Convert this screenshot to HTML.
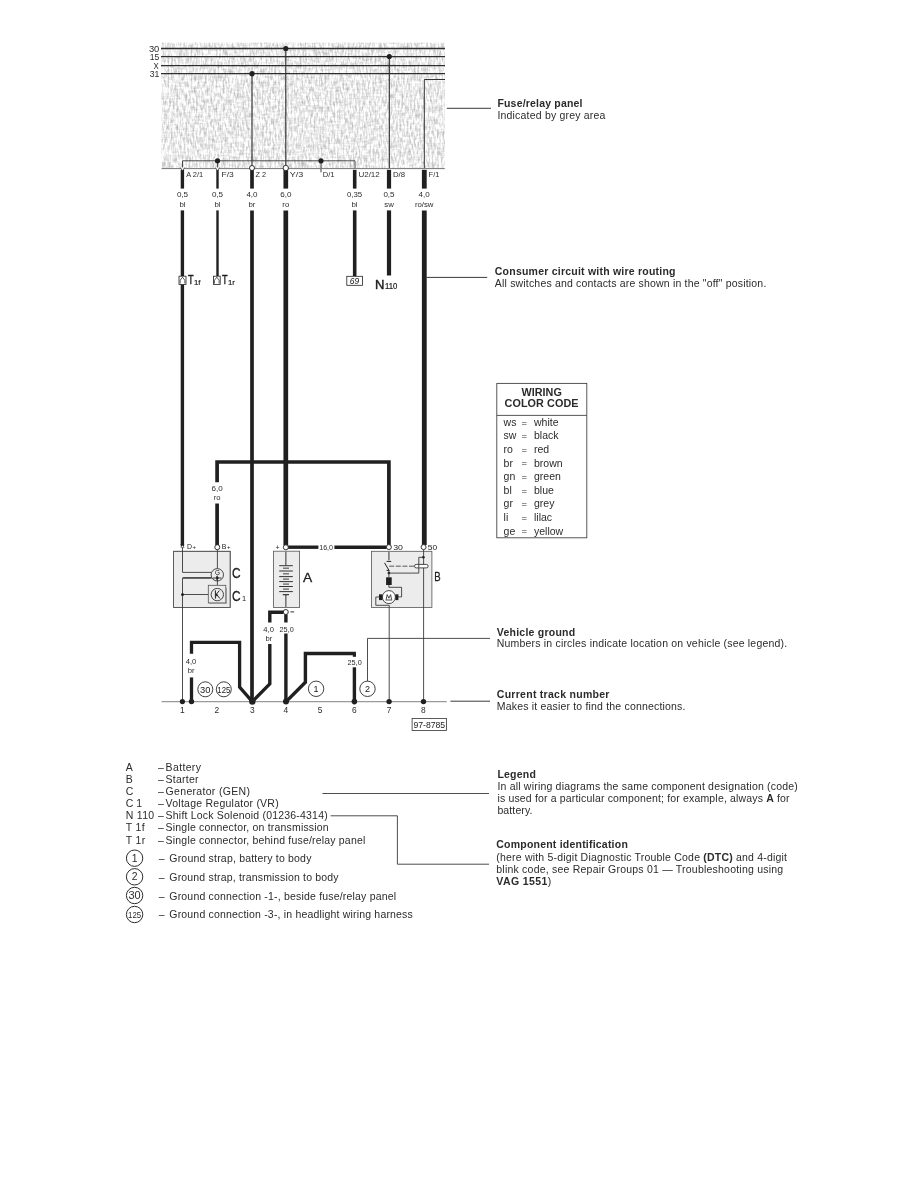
<!DOCTYPE html>
<html><head><meta charset="utf-8"><title>Wiring diagram</title>
<style>
html,body{margin:0;padding:0;background:#fff;}
body{width:918px;height:1188px;overflow:hidden;font-family:"Liberation Sans",sans-serif;}
svg{display:block;font-family:"Liberation Sans",sans-serif;filter:blur(0.35px);}
</style></head><body>
<svg width="918" height="1188" viewBox="0 0 918 1188">
<defs>
<filter id="tex" x="0" y="0" width="100%" height="100%" filterUnits="objectBoundingBox" color-interpolation-filters="sRGB">
<feTurbulence type="fractalNoise" baseFrequency="0.56 0.16" numOctaves="2" seed="3" result="n1"/>
<feColorMatrix in="n1" type="matrix" values="1 0 0 0 0  1 0 0 0 0  1 0 0 0 0  0 0 0 0 1" result="g1"/>
<feTurbulence type="fractalNoise" baseFrequency="0.14 0.56" numOctaves="1" seed="8" result="n2"/>
<feColorMatrix in="n2" type="matrix" values="1 0 0 0 0  1 0 0 0 0  1 0 0 0 0  0 0 0 0 1" result="g2"/>
<feComposite in="g1" in2="g2" operator="arithmetic" k1="0" k2="0.5" k3="0.22" k4="0.558" result="mix"/>
<feComposite in="mix" in2="SourceGraphic" operator="in"/>
</filter>
</defs>
<rect x="161.6" y="42.6" width="283.2" height="126.0" fill="#e6e6e6" filter="url(#tex)"/>
<line x1="161" y1="48.5" x2="445" y2="48.5" stroke="#2e2e2e" stroke-width="1.3" stroke-linecap="butt"/>
<line x1="161" y1="56.6" x2="445" y2="56.6" stroke="#2e2e2e" stroke-width="1.3" stroke-linecap="butt"/>
<line x1="161" y1="65.7" x2="445" y2="65.7" stroke="#2e2e2e" stroke-width="1.3" stroke-linecap="butt"/>
<line x1="161" y1="73.7" x2="445" y2="73.7" stroke="#2e2e2e" stroke-width="1.3" stroke-linecap="butt"/>
<text x="159.3" y="51.5" font-size="8.2" text-anchor="end" textLength="10.4" lengthAdjust="spacingAndGlyphs" fill="#2b2b2b">30</text>
<text x="159.3" y="59.6" font-size="8.2" text-anchor="end" textLength="9.6" lengthAdjust="spacingAndGlyphs" fill="#2b2b2b">15</text>
<text x="158.8" y="68.6" font-size="8.2" text-anchor="end" textLength="5.2" lengthAdjust="spacingAndGlyphs" fill="#2b2b2b">X</text>
<text x="159.3" y="76.8" font-size="8.2" text-anchor="end" textLength="9.6" lengthAdjust="spacingAndGlyphs" fill="#2b2b2b">31</text>
<line x1="252" y1="73.7" x2="252" y2="166" stroke="#2a2a2a" stroke-width="1.1" stroke-linecap="butt"/>
<line x1="285.8" y1="48.5" x2="285.8" y2="166" stroke="#2a2a2a" stroke-width="1.1" stroke-linecap="butt"/>
<line x1="389.3" y1="56.6" x2="389.3" y2="168" stroke="#2a2a2a" stroke-width="1.1" stroke-linecap="butt"/>
<polyline points="445,79.5 424.3,79.5 424.3,168" fill="none" stroke="#333" stroke-width="1.0" stroke-linejoin="miter"/>
<circle cx="252" cy="73.7" r="2.6" fill="#202020"/>
<circle cx="285.8" cy="48.5" r="2.6" fill="#202020"/>
<circle cx="389.3" cy="56.6" r="2.6" fill="#202020"/>
<polyline points="182.5,168 182.5,160.8 355,160.8 355,168" fill="none" stroke="#3a3a3a" stroke-width="0.9" stroke-linejoin="miter"/>
<line x1="217.5" y1="160.8" x2="217.5" y2="168" stroke="#3a3a3a" stroke-width="0.9" stroke-linecap="butt"/>
<line x1="321" y1="160.8" x2="321" y2="172.3" stroke="#3a3a3a" stroke-width="1.0" stroke-linecap="butt"/>
<circle cx="217.5" cy="160.8" r="2.6" fill="#202020"/>
<circle cx="321" cy="160.8" r="2.6" fill="#202020"/>
<line x1="161.6" y1="168.6" x2="444.8" y2="168.6" stroke="#777" stroke-width="1.0" stroke-linecap="butt"/>
<line x1="182.4" y1="169.8" x2="182.4" y2="188.6" stroke="#202020" stroke-width="3.4" stroke-linecap="butt"/>
<line x1="182.4" y1="210.4" x2="182.4" y2="276.0" stroke="#202020" stroke-width="3.4" stroke-linecap="butt"/>
<line x1="217.5" y1="169.8" x2="217.5" y2="188.6" stroke="#202020" stroke-width="2.4" stroke-linecap="butt"/>
<line x1="217.5" y1="210.4" x2="217.5" y2="276.0" stroke="#202020" stroke-width="2.4" stroke-linecap="butt"/>
<line x1="252.0" y1="169.8" x2="252.0" y2="188.6" stroke="#202020" stroke-width="3.7" stroke-linecap="butt"/>
<line x1="252.0" y1="210.4" x2="252.0" y2="701.6" stroke="#202020" stroke-width="3.7" stroke-linecap="butt"/>
<line x1="285.8" y1="169.8" x2="285.8" y2="188.6" stroke="#202020" stroke-width="4.7" stroke-linecap="butt"/>
<line x1="285.8" y1="210.4" x2="285.8" y2="545.5" stroke="#202020" stroke-width="4.7" stroke-linecap="butt"/>
<line x1="354.7" y1="169.8" x2="354.7" y2="188.6" stroke="#202020" stroke-width="3.6" stroke-linecap="butt"/>
<line x1="354.7" y1="210.4" x2="354.7" y2="276.0" stroke="#202020" stroke-width="3.6" stroke-linecap="butt"/>
<line x1="389.0" y1="169.8" x2="389.0" y2="188.6" stroke="#202020" stroke-width="4.2" stroke-linecap="butt"/>
<line x1="389.0" y1="210.4" x2="389.0" y2="275.5" stroke="#202020" stroke-width="4.2" stroke-linecap="butt"/>
<line x1="424.3" y1="169.8" x2="424.3" y2="188.6" stroke="#202020" stroke-width="4.8" stroke-linecap="butt"/>
<line x1="424.3" y1="210.4" x2="424.3" y2="545.0" stroke="#202020" stroke-width="4.8" stroke-linecap="butt"/>
<line x1="182.4" y1="284.6" x2="182.4" y2="545.0" stroke="#202020" stroke-width="3.4" stroke-linecap="butt"/>
<path d="M180.3,167.5 L182.5,170.8 L184.7,167.5" fill="#fff" stroke="#202020" stroke-width="0.7"/>
<path d="M215.3,167.5 L217.5,170.8 L219.7,167.5" fill="#fff" stroke="#202020" stroke-width="0.7"/>
<circle cx="252" cy="168" r="2.5" fill="#fff" stroke="#202020" stroke-width="0.9"/>
<circle cx="285.8" cy="168" r="2.7" fill="#fff" stroke="#202020" stroke-width="0.9"/>
<text x="186.2" y="177.0" font-size="8.0" textLength="17.0" lengthAdjust="spacingAndGlyphs" fill="#2b2b2b">A 2/1</text>
<text x="221.5" y="177.0" font-size="8.0" textLength="12.2" lengthAdjust="spacingAndGlyphs" fill="#2b2b2b">F/3</text>
<text x="255.5" y="177.0" font-size="8.0" textLength="10.5" lengthAdjust="spacingAndGlyphs" fill="#2b2b2b">Z 2</text>
<text x="289.8" y="177.0" font-size="8.0" textLength="13.5" lengthAdjust="spacingAndGlyphs" fill="#2b2b2b">Y/3</text>
<text x="322.7" y="177.0" font-size="8.0" textLength="11.8" lengthAdjust="spacingAndGlyphs" fill="#2b2b2b">D/1</text>
<text x="358.4" y="177.0" font-size="8.0" textLength="21.4" lengthAdjust="spacingAndGlyphs" fill="#2b2b2b">U2/12</text>
<text x="392.9" y="177.0" font-size="8.0" textLength="12.2" lengthAdjust="spacingAndGlyphs" fill="#2b2b2b">D/8</text>
<text x="428.6" y="177.0" font-size="8.0" textLength="10.8" lengthAdjust="spacingAndGlyphs" fill="#2b2b2b">F/1</text>
<text x="182.5" y="197.3" font-size="7.8" text-anchor="middle" textLength="11.2" lengthAdjust="spacingAndGlyphs" fill="#2b2b2b">0,5</text>
<text x="182.5" y="206.6" font-size="7.8" text-anchor="middle" fill="#2b2b2b">bl</text>
<text x="217.5" y="197.3" font-size="7.8" text-anchor="middle" textLength="11.2" lengthAdjust="spacingAndGlyphs" fill="#2b2b2b">0,5</text>
<text x="217.5" y="206.6" font-size="7.8" text-anchor="middle" fill="#2b2b2b">bl</text>
<text x="252" y="197.3" font-size="7.8" text-anchor="middle" textLength="11.2" lengthAdjust="spacingAndGlyphs" fill="#2b2b2b">4,0</text>
<text x="252" y="206.6" font-size="7.8" text-anchor="middle" fill="#2b2b2b">br</text>
<text x="285.8" y="197.3" font-size="7.8" text-anchor="middle" textLength="11.2" lengthAdjust="spacingAndGlyphs" fill="#2b2b2b">6,0</text>
<text x="285.8" y="206.6" font-size="7.8" text-anchor="middle" fill="#2b2b2b">ro</text>
<text x="354.5" y="197.3" font-size="7.8" text-anchor="middle" textLength="15.2" lengthAdjust="spacingAndGlyphs" fill="#2b2b2b">0,35</text>
<text x="354.5" y="206.6" font-size="7.8" text-anchor="middle" fill="#2b2b2b">bl</text>
<text x="389" y="197.3" font-size="7.8" text-anchor="middle" textLength="11.2" lengthAdjust="spacingAndGlyphs" fill="#2b2b2b">0,5</text>
<text x="389" y="206.6" font-size="7.8" text-anchor="middle" fill="#2b2b2b">sw</text>
<text x="424.2" y="197.3" font-size="7.8" text-anchor="middle" textLength="11.2" lengthAdjust="spacingAndGlyphs" fill="#2b2b2b">4,0</text>
<text x="424.2" y="206.6" font-size="7.8" text-anchor="middle" fill="#2b2b2b">ro/sw</text>
<rect x="179.0" y="276.2" width="7.0" height="8.3" fill="#fff" stroke="#202020" stroke-width="0.8"/>
<path d="M180.2,283.5 L180.2,280.2 L182.5,277.2 L184.8,280.2 L184.8,283.5" fill="none" stroke="#202020" stroke-width="0.7"/>
<rect x="213.4" y="276.2" width="6.799999999999983" height="8.3" fill="#fff" stroke="#202020" stroke-width="0.8"/>
<path d="M214.5,283.5 L214.5,280.2 L216.8,277.2 L219.10000000000002,280.2 L219.10000000000002,283.5" fill="none" stroke="#202020" stroke-width="0.7"/>
<text x="187.9" y="284.4" font-size="13.6" textLength="5.6" lengthAdjust="spacingAndGlyphs" fill="#202020" stroke="#1c1c1c" stroke-width="0.45">T</text>
<text x="193.9" y="284.5" font-size="7.8" fill="#202020" stroke="#202020" stroke-width="0.2">1f</text>
<text x="221.9" y="284.4" font-size="13.6" textLength="5.6" lengthAdjust="spacingAndGlyphs" fill="#202020" stroke="#1c1c1c" stroke-width="0.45">T</text>
<text x="227.9" y="284.5" font-size="7.8" fill="#202020" stroke="#202020" stroke-width="0.2">1r</text>
<rect x="346.8" y="276.3" width="15.8" height="9.0" fill="#fff" stroke="#202020" stroke-width="0.8"/>
<text x="354.5" y="283.9" font-size="8.6" text-anchor="middle" textLength="9.4" lengthAdjust="spacingAndGlyphs" fill="#202020" font-style="italic">69</text>
<text x="375.0" y="288.6" font-size="13.5" textLength="9.4" lengthAdjust="spacingAndGlyphs" fill="#202020" stroke="#1c1c1c" stroke-width="0.45">N</text>
<text x="385.0" y="288.8" font-size="8.4" textLength="12.4" lengthAdjust="spacingAndGlyphs" fill="#202020" stroke="#202020" stroke-width="0.2">110</text>
<polyline points="217.1,482.3 217.1,462.0 388.9,462.0 388.9,545.0" fill="none" stroke="#202020" stroke-width="3.7" stroke-linejoin="miter"/>
<line x1="217.1" y1="503.5" x2="217.1" y2="545.0" stroke="#202020" stroke-width="3.7" stroke-linecap="butt"/>
<text x="217.2" y="490.6" font-size="7.8" text-anchor="middle" textLength="11.2" lengthAdjust="spacingAndGlyphs" fill="#2b2b2b">6,0</text>
<text x="217.1" y="500.0" font-size="7.6" text-anchor="middle" fill="#2b2b2b">ro</text>
<line x1="288.0" y1="547.2" x2="318.4" y2="547.2" stroke="#202020" stroke-width="3.4" stroke-linecap="butt"/>
<line x1="334.4" y1="547.2" x2="386.6" y2="547.2" stroke="#202020" stroke-width="3.4" stroke-linecap="butt"/>
<text x="319.2" y="550.0" font-size="7.8" textLength="13.8" lengthAdjust="spacingAndGlyphs" fill="#2b2b2b">16,0</text>
<rect x="173.6" y="551.3" width="56.6" height="56.1" fill="#ececec" stroke="#555" stroke-width="0.8"/>
<rect x="173.6" y="551.3" width="56.6" height="56.1" fill="none" stroke="#555" stroke-width="0.8"/>
<polyline points="182.5,546.5 182.5,572.4 211.4,572.4" fill="none" stroke="#3a3a3a" stroke-width="0.9" stroke-linejoin="miter"/>
<polyline points="211.6,577.9 182.5,577.9 182.5,701.6" fill="none" stroke="#3a3a3a" stroke-width="0.9" stroke-linejoin="miter"/>
<line x1="183" y1="577.9" x2="211.6" y2="577.9" stroke="#444" stroke-width="1.5" stroke-linecap="butt"/>
<line x1="182.5" y1="594.5" x2="208.3" y2="594.5" stroke="#3a3a3a" stroke-width="0.9" stroke-linecap="butt"/>
<circle cx="182.5" cy="594.5" r="1.5" fill="#202020"/>
<line x1="217.4" y1="549.5" x2="217.4" y2="568.8" stroke="#3a3a3a" stroke-width="0.9" stroke-linecap="butt"/>
<line x1="217.4" y1="581" x2="217.4" y2="585.3" stroke="#3a3a3a" stroke-width="0.9" stroke-linecap="butt"/>
<circle cx="217.3" cy="574.8" r="6.2" fill="#ececec" stroke="#333" stroke-width="0.9"/>
<text x="217.4" y="574.6" font-size="6.4" text-anchor="middle" fill="#111">G</text>
<path d="M213.0,578.0 H221.4 M217.4,575.6 V581.0" stroke="#202020" stroke-width="0.9" fill="none"/>
<path d="M216.2,576.0 L219.2,578.0 L216.2,580.0 Z" fill="#202020"/>
<rect x="208.3" y="585.3" width="17.5" height="17.6" fill="#ececec" stroke="#555" stroke-width="0.8"/>
<line x1="226.4" y1="588" x2="226.4" y2="603.4" stroke="#999" stroke-width="1.2" stroke-linecap="butt"/>
<line x1="209" y1="603.5" x2="226.4" y2="603.5" stroke="#999" stroke-width="1.0" stroke-linecap="butt"/>
<circle cx="217.3" cy="594.6" r="6.2" fill="#ececec" stroke="#333" stroke-width="0.9"/>
<path d="M215.4,590.4 V598.6 M215.6,595 L219.4,590.6 M216.2,594.2 L220.0,598.6" stroke="#202020" stroke-width="1.0" fill="none"/>
<path d="M215.8,593.6 L218.4,595.0 L216.4,596.6 Z" fill="#202020"/>
<text x="187.0" y="549.0" font-size="6.6" textLength="5.0" lengthAdjust="spacingAndGlyphs" fill="#202020">D</text>
<text x="192.6" y="549.0" font-size="6.0" fill="#202020">+</text>
<text x="221.8" y="549.0" font-size="6.6" textLength="4.6" lengthAdjust="spacingAndGlyphs" fill="#202020">B</text>
<text x="227.0" y="549.0" font-size="6.0" fill="#202020">+</text>
<line x1="182.4" y1="544" x2="182.4" y2="546.4" stroke="#202020" stroke-width="3.4" stroke-linecap="butt"/>
<path d="M180.9,547.6 L182.5,544.9 L184.1,547.6 Z" fill="#fff" stroke="#202020" stroke-width="0.5"/>
<circle cx="217.3" cy="547.2" r="2.5" fill="#fff" stroke="#202020" stroke-width="0.9"/>
<text x="232.0" y="578.4" font-size="14.0" textLength="8.6" lengthAdjust="spacingAndGlyphs" fill="#202020" stroke="#1c1c1c" stroke-width="0.3">C</text>
<text x="232.0" y="600.7" font-size="14.0" textLength="8.6" lengthAdjust="spacingAndGlyphs" fill="#202020" stroke="#1c1c1c" stroke-width="0.3">C</text>
<text x="241.9" y="600.6" font-size="7.4" fill="#202020">1</text>
<rect x="273.4" y="551.2" width="26.2" height="56.3" fill="#ececec" stroke="#555" stroke-width="0.8"/>
<line x1="285.8" y1="551.5" x2="285.8" y2="565.5" stroke="#777" stroke-width="1.6" stroke-linecap="butt"/>
<line x1="285.8" y1="595" x2="285.8" y2="607.4" stroke="#777" stroke-width="1.6" stroke-linecap="butt"/>
<line x1="279.2" y1="565.7" x2="292.8" y2="565.7" stroke="#333" stroke-width="1.0" stroke-linecap="butt"/>
<line x1="279.2" y1="571.0" x2="292.8" y2="571.0" stroke="#333" stroke-width="1.0" stroke-linecap="butt"/>
<line x1="279.2" y1="576.6" x2="292.8" y2="576.6" stroke="#333" stroke-width="1.0" stroke-linecap="butt"/>
<line x1="279.2" y1="581.6" x2="292.8" y2="581.6" stroke="#333" stroke-width="1.0" stroke-linecap="butt"/>
<line x1="279.2" y1="586.5" x2="292.8" y2="586.5" stroke="#333" stroke-width="1.0" stroke-linecap="butt"/>
<line x1="279.2" y1="591.6" x2="292.8" y2="591.6" stroke="#333" stroke-width="1.0" stroke-linecap="butt"/>
<line x1="283.0" y1="568.2" x2="289.0" y2="568.2" stroke="#666" stroke-width="1.3" stroke-linecap="butt"/>
<line x1="283.0" y1="573.8" x2="289.0" y2="573.8" stroke="#666" stroke-width="1.3" stroke-linecap="butt"/>
<line x1="283.0" y1="579.1" x2="289.0" y2="579.1" stroke="#666" stroke-width="1.3" stroke-linecap="butt"/>
<line x1="283.0" y1="584.1" x2="289.0" y2="584.1" stroke="#666" stroke-width="1.3" stroke-linecap="butt"/>
<line x1="283.0" y1="589.1" x2="289.0" y2="589.1" stroke="#666" stroke-width="1.3" stroke-linecap="butt"/>
<line x1="282.8" y1="594.7" x2="289.0" y2="594.7" stroke="#222" stroke-width="1.1" stroke-linecap="butt"/>
<circle cx="285.8" cy="547.3" r="2.5" fill="#fff" stroke="#202020" stroke-width="0.9"/>
<circle cx="285.8" cy="612.0" r="2.5" fill="#fff" stroke="#202020" stroke-width="0.9"/>
<text x="275.4" y="549.6" font-size="7.0" fill="#202020">+</text>
<line x1="290.4" y1="611.9" x2="294.2" y2="611.9" stroke="#202020" stroke-width="0.9" stroke-linecap="butt"/>
<text x="303.0" y="581.7" font-size="13.2" textLength="9.2" lengthAdjust="spacingAndGlyphs" fill="#202020" stroke="#1c1c1c" stroke-width="0.3">A</text>
<polyline points="283.4,612.2 269.8,612.2 269.8,622.5" fill="none" stroke="#202020" stroke-width="3.4" stroke-linejoin="miter"/>
<polyline points="269.8,644.0 269.8,683.9 252.3,701.6" fill="none" stroke="#202020" stroke-width="3.4" stroke-linejoin="miter"/>
<line x1="285.9" y1="614.4" x2="285.9" y2="622.5" stroke="#202020" stroke-width="3.4" stroke-linecap="butt"/>
<line x1="285.9" y1="633.5" x2="285.9" y2="701.6" stroke="#202020" stroke-width="3.4" stroke-linecap="butt"/>
<text x="268.6" y="631.6" font-size="7.8" text-anchor="middle" textLength="10.6" lengthAdjust="spacingAndGlyphs" fill="#2b2b2b">4,0</text>
<text x="269.0" y="640.8" font-size="7.6" text-anchor="middle" fill="#2b2b2b">br</text>
<text x="286.6" y="631.6" font-size="7.8" text-anchor="middle" textLength="14.2" lengthAdjust="spacingAndGlyphs" fill="#2b2b2b">25,0</text>
<rect x="371.4" y="551.3" width="60.5" height="56.1" fill="#ececec" stroke="#555" stroke-width="0.8"/>
<circle cx="388.9" cy="547.1" r="2.5" fill="#fff" stroke="#202020" stroke-width="0.9"/>
<circle cx="423.6" cy="547.1" r="2.5" fill="#fff" stroke="#202020" stroke-width="0.9"/>
<text x="393.2" y="549.8" font-size="7.8" textLength="9.8" lengthAdjust="spacingAndGlyphs" fill="#202020">30</text>
<text x="427.8" y="549.8" font-size="7.8" textLength="9.4" lengthAdjust="spacingAndGlyphs" fill="#202020">50</text>
<line x1="423.6" y1="549.6" x2="423.6" y2="701.6" stroke="#3a3a3a" stroke-width="0.9" stroke-linecap="butt"/>
<line x1="388.9" y1="551.6" x2="388.9" y2="560.2" stroke="#777" stroke-width="1.6" stroke-linecap="butt"/>
<line x1="386.6" y1="561.4" x2="391.2" y2="561.4" stroke="#202020" stroke-width="1.0" stroke-linecap="butt"/>
<line x1="384.5" y1="562.8" x2="388.9" y2="570.2" stroke="#202020" stroke-width="1.0" stroke-linecap="butt"/>
<line x1="386.6" y1="570.4" x2="389.4" y2="570.4" stroke="#202020" stroke-width="1.0" stroke-linecap="butt"/>
<line x1="389.2" y1="566.3" x2="414.5" y2="566.3" stroke="#888" stroke-width="1.4" stroke-dasharray="5 1.6"/>
<rect x="414.5" y="564.4" width="13.6" height="3.5" rx="1.7" fill="#fff" stroke="#202020" stroke-width="0.8"/>
<circle cx="388.9" cy="573.1" r="1.4" fill="#202020"/>
<line x1="388.9" y1="570.4" x2="388.9" y2="577.3" stroke="#3a3a3a" stroke-width="0.9" stroke-linecap="butt"/>
<polyline points="388.9,573.1 418.8,573.1 418.8,557.3 423.6,557.3" fill="none" stroke="#3a3a3a" stroke-width="0.9" stroke-linejoin="miter"/>
<circle cx="423.4" cy="557.3" r="1.3" fill="#202020"/>
<rect x="386.1" y="577.3" width="5.6" height="7.7" fill="#202020"/>
<polyline points="388.9,585 388.9,587.3 401.6,587.3 401.6,596.9 398,596.9" fill="none" stroke="#3a3a3a" stroke-width="0.9" stroke-linejoin="miter"/>
<circle cx="388.9" cy="597.1" r="6.5" fill="#fff" stroke="#333" stroke-width="0.9"/>
<rect x="379.0" y="594.3" width="3.4" height="5.8" fill="#202020"/>
<rect x="395.4" y="594.3" width="3.0" height="5.8" fill="#202020"/>
<path d="M386.2,599.6 L387.2,594.6 L388.9,598.2 L390.6,594.6 L391.6,599.6 M385.6,600.0 H392.2" fill="none" stroke="#202020" stroke-width="0.8"/>
<polyline points="379,597 375.8,597 375.8,605.3 389.2,605.3 389.2,701.6" fill="none" stroke="#3a3a3a" stroke-width="0.9" stroke-linejoin="miter"/>
<text x="434.2" y="581.4" font-size="12.6" textLength="6.4" lengthAdjust="spacingAndGlyphs" fill="#202020" stroke="#1c1c1c" stroke-width="0.3">B</text>
<line x1="161.6" y1="701.7" x2="446.8" y2="701.7" stroke="#9a9a9a" stroke-width="1.2" stroke-linecap="butt"/>
<line x1="450.4" y1="701.2" x2="490" y2="701.2" stroke="#3a3a3a" stroke-width="1.0" stroke-linecap="butt"/>
<line x1="191.5" y1="701.6" x2="191.5" y2="677.4" stroke="#202020" stroke-width="3.3" stroke-linecap="butt"/>
<polyline points="191.5,653.7 191.5,642.3 239.6,642.3 239.6,687.2 252.3,701.6" fill="none" stroke="#202020" stroke-width="3.3" stroke-linejoin="miter"/>
<text x="191.0" y="664.2" font-size="7.8" text-anchor="middle" textLength="10.6" lengthAdjust="spacingAndGlyphs" fill="#2b2b2b">4,0</text>
<text x="191.2" y="673.4" font-size="7.6" text-anchor="middle" fill="#2b2b2b">br</text>
<polyline points="286.1,701.6 305.4,682.3 305.4,653.5 355.9,653.5" fill="none" stroke="#202020" stroke-width="3.4" stroke-linejoin="miter"/>
<line x1="354.4" y1="653.5" x2="354.4" y2="656.8" stroke="#202020" stroke-width="3.2" stroke-linecap="butt"/>
<line x1="354.4" y1="667.3" x2="354.4" y2="701.6" stroke="#202020" stroke-width="3.4" stroke-linecap="butt"/>
<text x="354.6" y="664.6" font-size="7.8" text-anchor="middle" textLength="14.2" lengthAdjust="spacingAndGlyphs" fill="#2b2b2b">25,0</text>
<circle cx="182.4" cy="701.6" r="2.6" fill="#202020"/>
<circle cx="191.5" cy="701.6" r="2.7" fill="#202020"/>
<circle cx="252.3" cy="701.6" r="3.2" fill="#202020"/>
<circle cx="286.0" cy="701.6" r="3.0" fill="#202020"/>
<circle cx="354.4" cy="701.6" r="2.8" fill="#202020"/>
<circle cx="389.1" cy="701.6" r="2.7" fill="#202020"/>
<circle cx="423.5" cy="701.6" r="2.7" fill="#202020"/>
<circle cx="205.3" cy="689.3" r="7.5" fill="#fff" stroke="#2a2a2a" stroke-width="0.9"/>
<text x="205.3" y="692.54" font-size="9.0" text-anchor="middle" textLength="10.4" lengthAdjust="spacingAndGlyphs" fill="#202020">30</text>
<circle cx="223.8" cy="689.3" r="7.5" fill="#fff" stroke="#2a2a2a" stroke-width="0.9"/>
<text x="223.8" y="692.54" font-size="9.0" text-anchor="middle" textLength="13.0" lengthAdjust="spacingAndGlyphs" fill="#202020">125</text>
<circle cx="316.1" cy="688.8" r="7.7" fill="#fff" stroke="#2a2a2a" stroke-width="0.9"/>
<text x="316.1" y="692.04" font-size="9.0" text-anchor="middle" fill="#202020">1</text>
<circle cx="367.5" cy="688.8" r="7.7" fill="#fff" stroke="#2a2a2a" stroke-width="0.9"/>
<text x="367.5" y="692.04" font-size="9.0" text-anchor="middle" fill="#202020">2</text>
<polyline points="367.5,681.2 367.5,638.4 490,638.4" fill="none" stroke="#3a3a3a" stroke-width="0.9" stroke-linejoin="miter"/>
<text x="182.4" y="712.8" font-size="8.4" text-anchor="middle" fill="#2b2b2b">1</text>
<text x="216.9" y="712.8" font-size="8.4" text-anchor="middle" fill="#2b2b2b">2</text>
<text x="252.3" y="712.8" font-size="8.4" text-anchor="middle" fill="#2b2b2b">3</text>
<text x="285.8" y="712.8" font-size="8.4" text-anchor="middle" fill="#2b2b2b">4</text>
<text x="320.0" y="712.8" font-size="8.4" text-anchor="middle" fill="#2b2b2b">5</text>
<text x="354.3" y="712.8" font-size="8.4" text-anchor="middle" fill="#2b2b2b">6</text>
<text x="389.0" y="712.8" font-size="8.4" text-anchor="middle" fill="#2b2b2b">7</text>
<text x="423.3" y="712.8" font-size="8.4" text-anchor="middle" fill="#2b2b2b">8</text>
<rect x="412.1" y="718.5" width="34.4" height="11.9" fill="#fff" stroke="#333" stroke-width="0.8"/>
<text x="429.3" y="727.8" font-size="9.0" text-anchor="middle" textLength="31.7" lengthAdjust="spacingAndGlyphs" fill="#202020">97-8785</text>
<line x1="446.8" y1="108.3" x2="491" y2="108.3" stroke="#3a3a3a" stroke-width="1.0" stroke-linecap="butt"/>
<text x="497.4" y="106.7" font-size="10.5" font-weight="bold" textLength="85.1" lengthAdjust="spacing" fill="#2b2b2b">Fuse/relay panel</text>
<text x="497.4" y="118.7" font-size="10.5" textLength="108.0" lengthAdjust="spacing" fill="#2b2b2b">Indicated by grey area</text>
<line x1="426.5" y1="277.4" x2="487.2" y2="277.4" stroke="#3a3a3a" stroke-width="1.0" stroke-linecap="butt"/>
<text x="494.8" y="274.8" font-size="10.5" font-weight="bold" textLength="180.7" lengthAdjust="spacing" fill="#2b2b2b">Consumer circuit with wire routing</text>
<text x="494.8" y="286.9" font-size="10.5" textLength="271.5" lengthAdjust="spacing" fill="#2b2b2b">All switches and contacts are shown in the &quot;off&quot; position.</text>
<text x="496.8" y="635.7" font-size="10.5" font-weight="bold" textLength="78.4" lengthAdjust="spacing" fill="#2b2b2b">Vehicle ground</text>
<text x="496.8" y="647.3" font-size="10.5" textLength="290.3" lengthAdjust="spacing" fill="#2b2b2b">Numbers in circles indicate location on vehicle (see legend).</text>
<text x="496.8" y="698.2" font-size="10.5" font-weight="bold" textLength="112.6" lengthAdjust="spacing" fill="#2b2b2b">Current track number</text>
<text x="496.8" y="710.0" font-size="10.5" textLength="188.6" lengthAdjust="spacing" fill="#2b2b2b">Makes it easier to find the connections.</text>
<rect x="496.8" y="383.4" width="90.0" height="154.4" fill="#fff" stroke="#444" stroke-width="0.9"/>
<line x1="496.8" y1="415.4" x2="586.8" y2="415.4" stroke="#444" stroke-width="0.9" stroke-linecap="butt"/>
<text x="541.7" y="395.6" font-size="10.8" font-weight="bold" text-anchor="middle" textLength="40.3" lengthAdjust="spacing" fill="#2b2b2b">WIRING</text>
<text x="541.5" y="407.4" font-size="10.8" font-weight="bold" text-anchor="middle" textLength="74.0" lengthAdjust="spacing" fill="#2b2b2b">COLOR CODE</text>
<text x="503.6" y="425.9" font-size="10.5" fill="#2b2b2b">ws</text>
<text x="521.6" y="425.59999999999997" font-size="9.5" fill="#2b2b2b">=</text>
<text x="534.0" y="425.9" font-size="10.5" fill="#2b2b2b">white</text>
<text x="503.6" y="439.48999999999995" font-size="10.5" fill="#2b2b2b">sw</text>
<text x="521.6" y="439.18999999999994" font-size="9.5" fill="#2b2b2b">=</text>
<text x="534.0" y="439.48999999999995" font-size="10.5" fill="#2b2b2b">black</text>
<text x="503.6" y="453.08" font-size="10.5" fill="#2b2b2b">ro</text>
<text x="521.6" y="452.78" font-size="9.5" fill="#2b2b2b">=</text>
<text x="534.0" y="453.08" font-size="10.5" fill="#2b2b2b">red</text>
<text x="503.6" y="466.66999999999996" font-size="10.5" fill="#2b2b2b">br</text>
<text x="521.6" y="466.36999999999995" font-size="9.5" fill="#2b2b2b">=</text>
<text x="534.0" y="466.66999999999996" font-size="10.5" fill="#2b2b2b">brown</text>
<text x="503.6" y="480.26" font-size="10.5" fill="#2b2b2b">gn</text>
<text x="521.6" y="479.96" font-size="9.5" fill="#2b2b2b">=</text>
<text x="534.0" y="480.26" font-size="10.5" fill="#2b2b2b">green</text>
<text x="503.6" y="493.84999999999997" font-size="10.5" fill="#2b2b2b">bl</text>
<text x="521.6" y="493.54999999999995" font-size="9.5" fill="#2b2b2b">=</text>
<text x="534.0" y="493.84999999999997" font-size="10.5" fill="#2b2b2b">blue</text>
<text x="503.6" y="507.43999999999994" font-size="10.5" fill="#2b2b2b">gr</text>
<text x="521.6" y="507.13999999999993" font-size="9.5" fill="#2b2b2b">=</text>
<text x="534.0" y="507.43999999999994" font-size="10.5" fill="#2b2b2b">grey</text>
<text x="503.6" y="521.03" font-size="10.5" fill="#2b2b2b">li</text>
<text x="521.6" y="520.73" font-size="9.5" fill="#2b2b2b">=</text>
<text x="534.0" y="521.03" font-size="10.5" fill="#2b2b2b">lilac</text>
<text x="503.6" y="534.62" font-size="10.5" fill="#2b2b2b">ge</text>
<text x="521.6" y="534.32" font-size="9.5" fill="#2b2b2b">=</text>
<text x="534.0" y="534.62" font-size="10.5" fill="#2b2b2b">yellow</text>
<text x="125.7" y="770.7" font-size="10.5" fill="#2b2b2b">A</text>
<text x="158.0" y="770.7" font-size="10.5" fill="#2b2b2b">&#8211;</text>
<text x="165.6" y="770.7" font-size="10.5" textLength="35.3" lengthAdjust="spacing" fill="#2b2b2b">Battery</text>
<text x="125.7" y="782.85" font-size="10.5" fill="#2b2b2b">B</text>
<text x="158.0" y="782.85" font-size="10.5" fill="#2b2b2b">&#8211;</text>
<text x="165.6" y="782.85" font-size="10.5" textLength="33.0" lengthAdjust="spacing" fill="#2b2b2b">Starter</text>
<text x="125.7" y="795.0" font-size="10.5" fill="#2b2b2b">C</text>
<text x="158.0" y="795.0" font-size="10.5" fill="#2b2b2b">&#8211;</text>
<text x="165.6" y="795.0" font-size="10.5" textLength="84.3" lengthAdjust="spacing" fill="#2b2b2b">Generator (GEN)</text>
<text x="125.7" y="807.1500000000001" font-size="10.5" textLength="16.3" lengthAdjust="spacing" fill="#2b2b2b">C 1</text>
<text x="158.0" y="807.1500000000001" font-size="10.5" fill="#2b2b2b">&#8211;</text>
<text x="165.6" y="807.1500000000001" font-size="10.5" textLength="113.1" lengthAdjust="spacing" fill="#2b2b2b">Voltage Regulator (VR)</text>
<text x="125.7" y="819.3000000000001" font-size="10.5" textLength="28.4" lengthAdjust="spacing" fill="#2b2b2b">N 110</text>
<text x="158.0" y="819.3000000000001" font-size="10.5" fill="#2b2b2b">&#8211;</text>
<text x="165.6" y="819.3000000000001" font-size="10.5" textLength="162.1" lengthAdjust="spacing" fill="#2b2b2b">Shift Lock Solenoid (01236-4314)</text>
<text x="125.7" y="831.45" font-size="10.5" textLength="19.0" lengthAdjust="spacing" fill="#2b2b2b">T 1f</text>
<text x="158.0" y="831.45" font-size="10.5" fill="#2b2b2b">&#8211;</text>
<text x="165.6" y="831.45" font-size="10.5" textLength="163.1" lengthAdjust="spacing" fill="#2b2b2b">Single connector, on transmission</text>
<text x="125.7" y="843.6" font-size="10.5" textLength="19.6" lengthAdjust="spacing" fill="#2b2b2b">T 1r</text>
<text x="158.0" y="843.6" font-size="10.5" fill="#2b2b2b">&#8211;</text>
<text x="165.6" y="843.6" font-size="10.5" textLength="199.7" lengthAdjust="spacing" fill="#2b2b2b">Single connector, behind fuse/relay panel</text>
<line x1="322.4" y1="793.5" x2="489" y2="793.5" stroke="#3a3a3a" stroke-width="0.9" stroke-linecap="butt"/>
<polyline points="330.6,815.8 397.4,815.8 397.4,864.2 489,864.2" fill="none" stroke="#3a3a3a" stroke-width="0.9" stroke-linejoin="miter"/>
<circle cx="134.6" cy="858.2" r="8.2" fill="#fff" stroke="#2a2a2a" stroke-width="1.0"/>
<text x="134.6" y="861.8000000000001" font-size="10.4" text-anchor="middle" fill="#2b2b2b">1</text>
<text x="158.8" y="862.4" font-size="10.5" fill="#2b2b2b">&#8211;</text>
<text x="169.3" y="862.4" font-size="10.5" textLength="142.1" lengthAdjust="spacing" fill="#2b2b2b">Ground strap, battery to body</text>
<circle cx="134.6" cy="876.8" r="8.2" fill="#fff" stroke="#2a2a2a" stroke-width="1.0"/>
<text x="134.6" y="880.4" font-size="10.4" text-anchor="middle" fill="#2b2b2b">2</text>
<text x="158.8" y="880.9" font-size="10.5" fill="#2b2b2b">&#8211;</text>
<text x="169.3" y="880.9" font-size="10.5" textLength="169.3" lengthAdjust="spacing" fill="#2b2b2b">Ground strap, transmission to body</text>
<circle cx="134.6" cy="895.5" r="8.2" fill="#fff" stroke="#2a2a2a" stroke-width="1.0"/>
<text x="134.6" y="899.1" font-size="10.0" text-anchor="middle" textLength="12.2" lengthAdjust="spacingAndGlyphs" fill="#2b2b2b">30</text>
<text x="158.8" y="899.7" font-size="10.5" fill="#2b2b2b">&#8211;</text>
<text x="169.3" y="899.7" font-size="10.5" textLength="226.8" lengthAdjust="spacing" fill="#2b2b2b">Ground connection -1-, beside fuse/relay panel</text>
<circle cx="134.6" cy="914.5" r="8.2" fill="#fff" stroke="#2a2a2a" stroke-width="1.0"/>
<text x="134.6" y="918.1" font-size="9.2" text-anchor="middle" textLength="13.0" lengthAdjust="spacingAndGlyphs" fill="#2b2b2b">125</text>
<text x="158.8" y="918.2" font-size="10.5" fill="#2b2b2b">&#8211;</text>
<text x="169.3" y="918.2" font-size="10.5" textLength="243.5" lengthAdjust="spacing" fill="#2b2b2b">Ground connection -3-, in headlight wiring harness</text>
<text x="497.4" y="777.9" font-size="10.5" font-weight="bold" textLength="38.5" lengthAdjust="spacing" fill="#2b2b2b">Legend</text>
<text x="497.4" y="789.6" font-size="10.5" textLength="300.4" lengthAdjust="spacing" fill="#2b2b2b">In all wiring diagrams the same component designation (code)</text>
<text x="497.4" y="801.9" font-size="10.5" textLength="292.2" lengthAdjust="spacing" fill="#2b2b2b">is used for a particular component; for example, always <tspan font-weight="bold">A</tspan> for</text>
<text x="497.4" y="814.1" font-size="10.5" textLength="35.1" lengthAdjust="spacing" fill="#2b2b2b">battery.</text>
<text x="496.3" y="848.0" font-size="10.5" font-weight="bold" textLength="131.5" lengthAdjust="spacing" fill="#2b2b2b">Component identification</text>
<text x="496.3" y="860.9" font-size="10.5" textLength="290.7" lengthAdjust="spacing" fill="#2b2b2b">(here with 5-digit Diagnostic Trouble Code <tspan font-weight="bold">(DTC)</tspan> and 4-digit</text>
<text x="496.3" y="873.3" font-size="10.5" textLength="286.8" lengthAdjust="spacing" fill="#2b2b2b">blink code, see Repair Groups 01 &#8212; Troubleshooting using</text>
<text x="496.3" y="884.5" font-size="10.5" textLength="54.9" lengthAdjust="spacing" fill="#2b2b2b"><tspan font-weight="bold">VAG 1551</tspan>)</text>
</svg>
</body></html>
